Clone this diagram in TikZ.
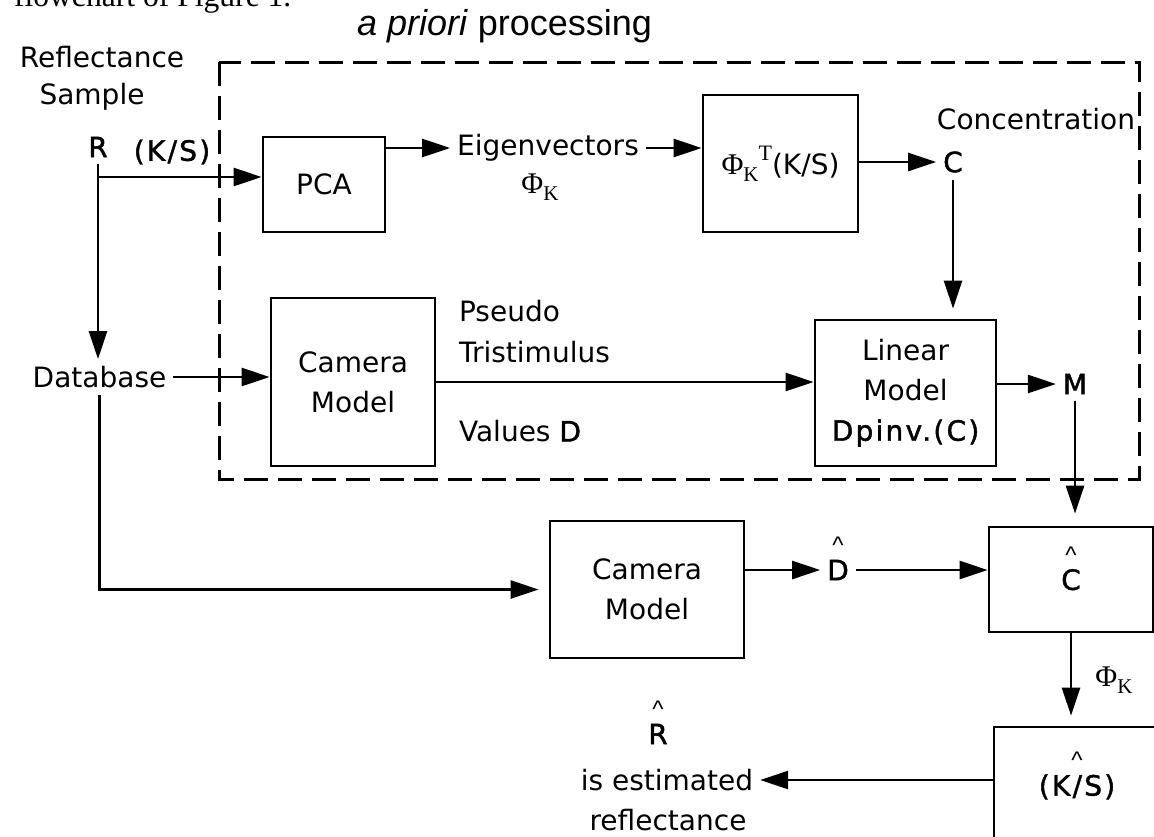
\documentclass[tikz,border=0pt]{standalone}
\usepackage{fontspec}
\setmainfont{DejaVu Sans}
\newfontfamily\serif{Liberation Serif}
\newfontfamily\headfont{Liberation Sans}
\newfontfamily\heavy[FakeBold=1.5,LetterSpace=8]{DejaVu Sans}
\usetikzlibrary{arrows.meta}
\newcommand{\phik}{{\serif\fontsize{15}{15}\selectfont Φ\raisebox{-3.5pt}{\fontsize{10.5}{10.5}\selectfont K}}}
\newcommand{\est}[1]{\ooalign{#1\cr\hidewidth\raisebox{13.4pt}{\headfont\fontsize{12}{12}\selectfont\textasciicircum}\hidewidth\cr}}

\begin{document}
\begin{tikzpicture}[x=0.5pt,y=-0.5pt,font=\fontsize{14}{20}\selectfont,
  block/.style={draw,line width=1.4pt,align=center,inner sep=0pt},
  arr/.style={-{Triangle[length=14pt,width=9pt]},line width=1.3pt}]
\clip (0,0) rectangle (1154,836);
\node[anchor=base west,font=\serif\fontsize{15.8}{18}\selectfont] (caption) at (7,6) {flowchart of Figure 1.};
\node[anchor=base west,font=\headfont\fontsize{18}{20}\selectfont] (title) at (350,35) {\textit{a priori} processing};
\draw[line width=1.5pt,dash pattern=on 12pt off 5pt] (219,62) rectangle (1139,479);
\node (refl) at (102,57) {Reflectance};
\node (sample) at (92,97) {Sample};
\node (rr) at (98,147) {\heavy R};
\node (ks) at (172,152) {\heavy (K/S)};
\node[block,minimum width=61pt,minimum height=47.5pt] (pca) at (324,184.5) {PCA};
\node (eig) at (548,148) {Eigenvectors};
\node (phik) at (540,187) {\phik};
\node[block,minimum width=77.5pt,minimum height=68.5pt] (proj) at (780.5,163.5) {\phik\raisebox{7pt}{\serif\fontsize{11}{11}\selectfont T}(K/S)};
\node (conc) at (1036,119) {Concentration};
\node (cc) at (953,162) {\heavy C};
\node (db) at (99.5,377) {Database};
\node[block,minimum width=82pt,minimum height=84pt] (cam1) at (353,382) {Camera\\Model};
\node[anchor=west] (pseudo) at (452,311) {Pseudo};
\node[anchor=west] (tristim) at (452,352) {Tristimulus};
\node[anchor=west] (values) at (452,431) {Values {\heavy D}};
\node[block,minimum width=90.5pt,minimum height=73pt] (lin) at (905.5,393) {Linear\\Model\\{\heavy Dpinv.(C)}};
\node (mm) at (1075,384) {\heavy M};
\node[block,minimum width=97pt,minimum height=68.5pt] (cam2) at (647,589.5) {Camera\\Model};
\node (dhat) at (838,570) {\heavy\est{D}};
\node[block,minimum width=82pt,minimum height=52.5pt] (chat) at (1071,579.5) {\heavy\est{C}};
\node[block,minimum width=83pt,minimum height=58pt] (kshat) at (1077,785) {\heavy\est{(K/S)}};
\node (phik2) at (1114,680) {\phik};
\node (rhat) at (658,734) {\heavy\est{R}};
\node (est) at (667,780) {is estimated};
\node (refl2) at (668,820) {reflectance};
\coordinate (split) at (98,177);
\draw[arr] (rr.south) -- (rr.south |- db.north);
\draw[arr] (split) -- (split -| pca.west);
\draw[arr] (pca.east |- eig) -- (eig.west);
\draw[arr] (eig.east) -- (eig -| proj.west);
\draw[arr] (proj.east |- cc) -- (cc.west);
\draw[arr,shorten >=5pt] (cc.south) -- (cc |- lin.north);
\draw[arr] (db.east) -- (db -| cam1.west);
\draw[arr] (cam1.east) -- (cam1 -| lin.west);
\draw[arr] (lin.east |- mm) -- (mm.west);
\draw[arr,shorten >=6pt] (mm.south) -- (mm |- chat.north);
\draw[arr,shorten >=5pt] (db.south) |- (cam2.west);
\draw[arr] (cam2.east |- dhat) -- (dhat.west);
\draw[arr] (dhat.east) -- (dhat -| chat.west);
\draw[arr,shorten >=5pt] (chat.south) -- (chat.south |- kshat.north);
\draw[arr] (kshat.west |- est) -- (est.east);
\end{tikzpicture}
\end{document}
